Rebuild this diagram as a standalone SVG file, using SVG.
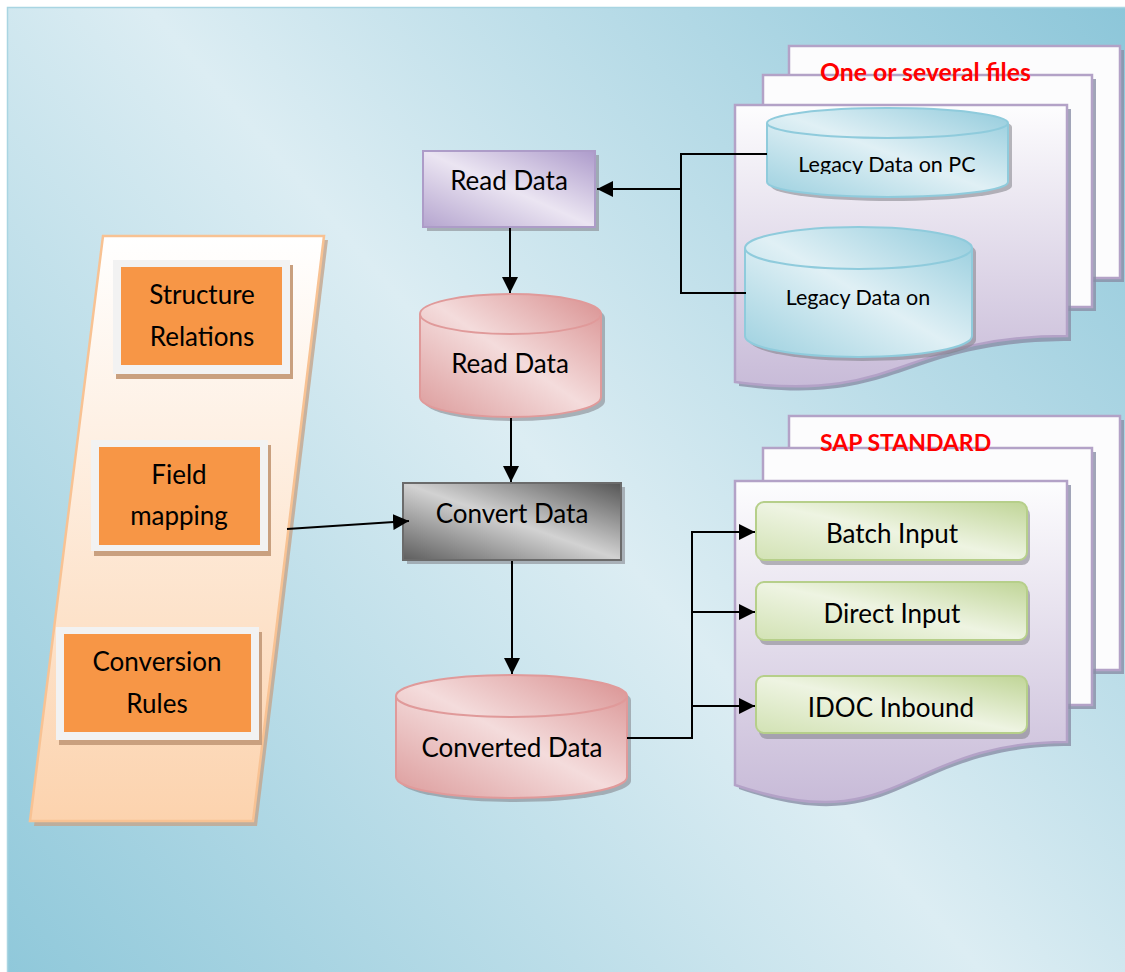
<svg xmlns="http://www.w3.org/2000/svg" width="1125" height="972" viewBox="0 0 1125 972">
<defs>
<linearGradient id="bg" gradientUnits="userSpaceOnUse" x1="1125" y1="0" x2="0" y2="972">
<stop offset="0" stop-color="#8cc6d9"/><stop offset="0.5" stop-color="#dcedf3"/><stop offset="1" stop-color="#8fc8da"/>
</linearGradient>
<linearGradient id="purp" x1="1" y1="0" x2="0" y2="1">
<stop offset="0" stop-color="#ad9bcb"/><stop offset="0.5" stop-color="#ebe5f2"/><stop offset="1" stop-color="#b5a5cf"/>
</linearGradient>
<linearGradient id="pink" x1="1" y1="0" x2="0" y2="1">
<stop offset="0" stop-color="#d99090"/><stop offset="0.5" stop-color="#f4dcdc"/><stop offset="1" stop-color="#dc9b9b"/>
</linearGradient>
<linearGradient id="blue" x1="1" y1="0" x2="0" y2="1">
<stop offset="0" stop-color="#92cbdc"/><stop offset="0.5" stop-color="#e0f0f5"/><stop offset="1" stop-color="#9cd0df"/>
</linearGradient>
<linearGradient id="grey" x1="1" y1="0" x2="0" y2="1">
<stop offset="0" stop-color="#555555"/><stop offset="0.5" stop-color="#d2d2d2"/><stop offset="1" stop-color="#5e5e5e"/>
</linearGradient>
<linearGradient id="green" x1="1" y1="0" x2="0" y2="1">
<stop offset="0" stop-color="#c0d597"/><stop offset="0.5" stop-color="#eef4e2"/><stop offset="1" stop-color="#d2e2b4"/>
</linearGradient>
<linearGradient id="page" x1="0" y1="0" x2="0" y2="1">
<stop offset="0" stop-color="#fdfdfe"/><stop offset="1" stop-color="#c8bbd8"/>
</linearGradient>
<linearGradient id="peach" x1="0" y1="0" x2="0" y2="1">
<stop offset="0" stop-color="#ffffff"/><stop offset="1" stop-color="#fcd3ae"/>
</linearGradient>
<marker id="ah" viewBox="0 0 10 10" refX="10" refY="5" markerWidth="8" markerHeight="8" markerUnits="strokeWidth" orient="auto">
<path d="M0,0 L10,5 L0,10 Z" fill="#000"/>
</marker>
<clipPath id="clipPC"><rect x="760" y="100" width="260" height="74"/></clipPath>
<clipPath id="clipMF"><rect x="740" y="220" width="240" height="108"/></clipPath>
</defs>
<style>
.t{font-family:Lato,"Liberation Sans",sans-serif;fill:#000;text-anchor:middle}
.big{font-size:26px}
.leg{font-size:21.5px}
.red{font-family:Lato,"Liberation Sans",sans-serif;font-weight:bold;fill:#ff0000}
.pg{stroke:#b3a2c7;stroke-width:2.5}
.pgsh{fill:#8a8ea6;opacity:0.8}
.sh{fill:#7f7f86;opacity:0.55}
.conn{fill:none;stroke:#000;stroke-width:2}
.orsh{fill:#c9a07f}
.frame{fill:#f2f2f2}
.or{fill:#f79646}
</style>

<rect id="background" x="7.5" y="7.5" width="1130" height="980" fill="url(#bg)" stroke="#a9d5e2" stroke-width="1.5"/>

<g id="legacy-files">
<rect class="pgsh" x="793" y="50" width="331" height="232"/>
<rect class="pg" x="789" y="46" width="331" height="232" fill="#fcfcfd"/>
<rect class="pgsh" x="767" y="79" width="329" height="232"/>
<rect class="pg" x="763" y="75" width="329" height="232" fill="#fcfcfd"/>
<path class="pgsh" d="M739,109 L1071,109 L1071,341 C901,341 901,408 739,386 Z"/>
<path class="pg" d="M735,105 L1067,105 L1067,336 C901,336 901,404 735,382 Z" fill="url(#page)"/>
<text class="red" x="820" y="81" font-size="24.8">One or several files</text>
</g>

<g id="sap-standard">
<rect class="pgsh" x="793" y="420" width="331" height="254"/>
<rect class="pg" x="789" y="416" width="331" height="254" fill="#fcfcfd"/>
<rect class="pgsh" x="767" y="452" width="329" height="257"/>
<rect class="pg" x="763" y="448" width="329" height="257" fill="#fcfcfd"/>
<path class="pgsh" d="M739,485 L1071,485 L1071,746 C901,746 901,845 739,789 Z"/>
<path class="pg" d="M735,481 L1067,481 L1067,742 C901,742 901,841 735,785 Z" fill="url(#page)"/>
<text class="red" x="820" y="451" font-size="23">SAP STANDARD</text>
</g>

<g id="legacy-pc">
<path class="sh" d="M771,127 A120.5,15 0 0 1 1012,127 L1012,186 A120.5,15 0 0 1 771,186 Z"/>
<path d="M767,123 A120.5,15 0 0 1 1008,123 L1008,182 A120.5,15 0 0 1 767,182 Z" fill="url(#blue)" stroke="#8fcbdc" stroke-width="2"/>
<path d="M767,123 A120.5,15 0 0 0 1008,123" fill="none" stroke="#8fcbdc" stroke-width="2"/>
<text class="t leg" x="887" y="172" clip-path="url(#clipPC)">Legacy Data on PC</text>
</g>

<g id="legacy-other">
<path class="sh" d="M749,252 A113.5,21 0 0 1 976,252 L976,340 A113.5,21 0 0 1 749,340 Z"/>
<path d="M745,248 A113.5,21 0 0 1 972,248 L972,336 A113.5,21 0 0 1 745,336 Z" fill="url(#blue)" stroke="#8fcbdc" stroke-width="2"/>
<path d="M745,248 A113.5,21 0 0 0 972,248" fill="none" stroke="#8fcbdc" stroke-width="2"/>
<text class="t leg" x="858" y="305" clip-path="url(#clipMF)">Legacy Data on</text>
</g>

<g id="rules-panel">
<polygon points="107,240 328,240 257,826 34,826" fill="#c4a58c" opacity="0.8"/>
<polygon points="103,236 324,236 253,821 30,821" fill="url(#peach)" stroke="#f8c293" stroke-width="2.5"/>
</g>

<g id="structure-relations">
<rect class="orsh" x="116" y="265" width="177" height="114"/>
<rect class="frame" x="113" y="260" width="177" height="114"/>
<rect class="or" x="121" y="267" width="161" height="98"/>
<text class="t big" x="202" y="304">Structure</text>
<text class="t big" x="202" y="346">Relations</text>
</g>

<g id="field-mapping">
<rect class="orsh" x="94" y="445" width="177" height="111"/>
<rect class="frame" x="91" y="440" width="177" height="111"/>
<rect class="or" x="99" y="447" width="161" height="98"/>
<text class="t big" x="179" y="484">Field</text>
<text class="t big" x="179" y="525">mapping</text>
</g>

<g id="conversion-rules">
<rect class="orsh" x="59" y="632" width="203" height="113"/>
<rect class="frame" x="56" y="627" width="203" height="113"/>
<rect class="or" x="64" y="634" width="187" height="98"/>
<text class="t big" x="157" y="671">Conversion</text>
<text class="t big" x="157" y="713">Rules</text>
</g>

<g id="read-data-box">
<rect class="sh" x="427" y="155" width="172" height="76"/>
<rect x="423" y="151" width="172" height="76" fill="url(#purp)" stroke="#ad9cc8" stroke-width="2"/>
<text class="t big" x="509" y="190">Read Data</text>
</g>

<g id="read-data-store">
<path class="sh" d="M424,318 A90.5,20 0 0 1 605,318 L605,401 A90.5,20 0 0 1 424,401 Z"/>
<path d="M420,314 A90.5,20 0 0 1 601,314 L601,397 A90.5,20 0 0 1 420,397 Z" fill="url(#pink)" stroke="#e09a9a" stroke-width="2"/>
<path d="M420,314 A90.5,20 0 0 0 601,314" fill="none" stroke="#e09a9a" stroke-width="2"/>
<text class="t big" x="510" y="373">Read Data</text>
</g>

<g id="convert-data">
<rect class="sh" x="407" y="487" width="218" height="77"/>
<rect x="403" y="483" width="218" height="77" fill="url(#grey)" stroke="#6b6b6b" stroke-width="2"/>
<text class="t big" x="512" y="523">Convert Data</text>
</g>

<g id="converted-data">
<path class="sh" d="M400,700 A115.5,21 0 0 1 631,700 L631,781 A115.5,21 0 0 1 400,781 Z"/>
<path d="M396,696 A115.5,21 0 0 1 627,696 L627,777 A115.5,21 0 0 1 396,777 Z" fill="url(#pink)" stroke="#e09a9a" stroke-width="2"/>
<path d="M396,696 A115.5,21 0 0 0 627,696" fill="none" stroke="#e09a9a" stroke-width="2"/>
<text class="t big" x="512" y="757">Converted Data</text>
</g>

<g id="batch-input">
<rect class="sh" x="759" y="507" width="271" height="58" rx="8"/>
<rect x="756" y="502" width="271" height="58" rx="8" fill="url(#green)" stroke="#b6cf8a" stroke-width="2"/>
<text class="t big" x="892" y="543">Batch Input</text>
</g>
<g id="direct-input">
<rect class="sh" x="759" y="587" width="271" height="58" rx="8"/>
<rect x="756" y="582" width="271" height="58" rx="8" fill="url(#green)" stroke="#b6cf8a" stroke-width="2"/>
<text class="t big" x="892" y="623">Direct Input</text>
</g>
<g id="idoc-inbound">
<rect class="sh" x="759" y="681" width="271" height="58" rx="8"/>
<rect x="756" y="676" width="271" height="57" rx="8" fill="url(#green)" stroke="#b6cf8a" stroke-width="2"/>
<text class="t big" x="891" y="717">IDOC Inbound</text>
</g>

<g id="connectors">
<polyline class="conn" points="767,154 681,154 681,293 746,293"/>
<line class="conn" x1="681" y1="189" x2="597" y2="189" marker-end="url(#ah)"/>
<line class="conn" x1="510" y1="228" x2="510" y2="293" marker-end="url(#ah)"/>
<line class="conn" x1="511" y1="418" x2="511" y2="482" marker-end="url(#ah)"/>
<line class="conn" x1="512" y1="561" x2="512" y2="674" marker-end="url(#ah)"/>
<line class="conn" x1="287" y1="529" x2="409" y2="521" marker-end="url(#ah)"/>
<polyline class="conn" points="627,738 692,738 692,532"/>
<line class="conn" x1="691" y1="532" x2="755" y2="532" marker-end="url(#ah)"/>
<line class="conn" x1="692" y1="612" x2="755" y2="612" marker-end="url(#ah)"/>
<line class="conn" x1="692" y1="706" x2="755" y2="706" marker-end="url(#ah)"/>
</g>
</svg>
